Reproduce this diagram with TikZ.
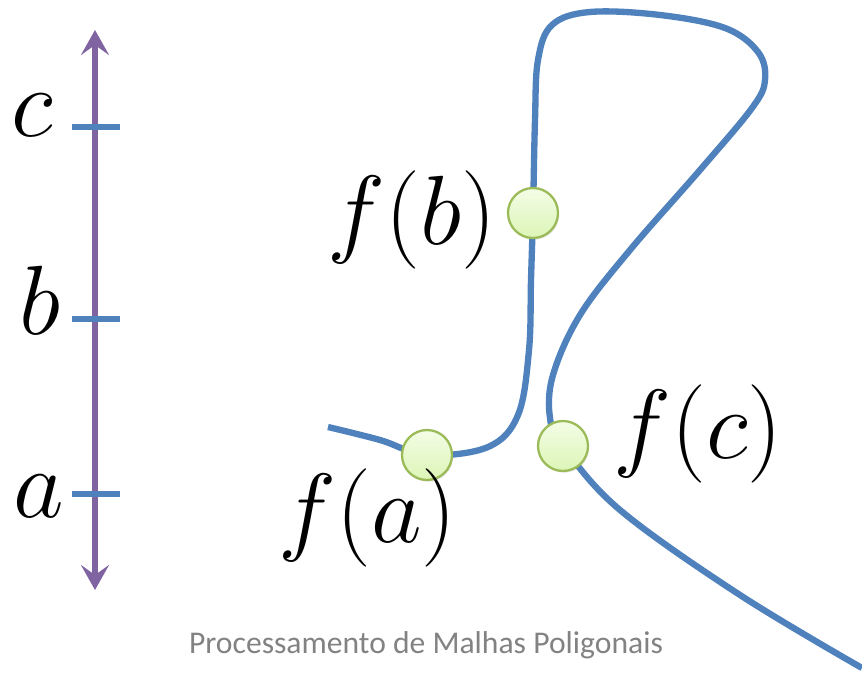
\RequirePackage{fix-cm}
\documentclass[tikz,border=0pt]{standalone}
\usepackage{fontspec}
\newfontfamily\footfont{Carlito}
\usepackage{xcolor}
\definecolor{axis}{HTML}{8064A2}
\definecolor{curve}{HTML}{4F81BD}
\definecolor{ptedge}{HTML}{9BBB59}
\definecolor{pttop}{HTML}{F3FDE6}
\definecolor{ptbot}{HTML}{DCF5B6}
\definecolor{footer}{HTML}{828282}
\usepackage{tikz}
\usetikzlibrary{arrows.meta, shadows}

\begin{document}
\begin{tikzpicture}[x=0.02cm, y=-0.02cm, every node/.style={inner sep=0pt},
  pt/.style={circle, draw=ptedge, line width=1.3pt, top color=pttop, bottom color=ptbot,
    minimum size=1.0cm, drop shadow={opacity=0.2, shadow xshift=0.6pt, shadow yshift=-1pt}},
  lbl/.style={anchor=base west, font=\fontsize{56}{62}\selectfont}]
  \useasboundingbox (0,0) rectangle (862,682);

  % Axis
  \coordinate (top) at (95,30);
  \coordinate (bot) at (95,590);
  \draw[axis, line width=3pt, {Stealth[length=0.5cm, width=0.56cm, inset=0.2cm]}-{Stealth[length=0.5cm, width=0.56cm, inset=0.2cm]}] (top) -- (bot);
  \foreach \y/\b/\x/\lbl in {494/517/13/a, 319/334/19/b, 127/137/11/c}{
    \draw[curve, line width=3pt] (72,\y) -- (120,\y);
    \node[lbl] (l\lbl) at (\x,\b) {$\lbl$};
  }

  % Curve
  \coordinate (pa) at (427,455);
  \coordinate (pb) at (533,213);
  \coordinate (pc) at (563,446);
  \draw[curve, line width=3.6pt] plot[smooth, tension=0.6] coordinates {(328,427) (380,440) (pa)
    (488,447) (518,415) (529,350) (531,280) (pb) (535,120) (538,60) (552,25) (590,12) (660,15)
    (725,28) (758,52) (765,80) (752,108) (700,170) (630,250) (580,315) (553,375) (550,418) (pc)
    (620,510) (740,595) (862,668)};

  % Points
  \node[pt] (fa) at (pa) {};
  \node[pt] (fb) at (pb) {};
  \node[pt] (fc) at (pc) {};
  \node[lbl] (la) at (278,542) {$f(a)$};
  \node[lbl] (lb) at (327,245) {$f(b)$};
  \node[lbl] (lc) at (613,458) {$f(c)$};

  \node[font=\footfont\fontsize{18}{20}\selectfont, text=footer, anchor=base] (title) at (426,653) {Processamento de Malhas Poligonais};
\end{tikzpicture}
\end{document}
